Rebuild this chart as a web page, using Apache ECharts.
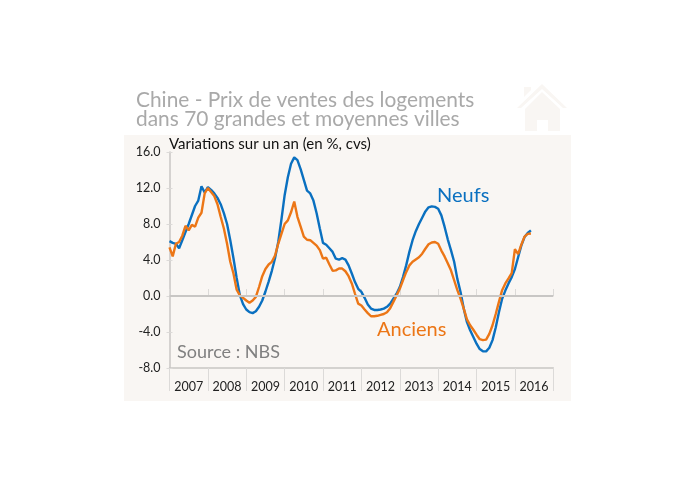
<!DOCTYPE html>
<html>
<head>
<meta charset="utf-8">
<style>html,body{margin:0;padding:0;background:#fff}#chart{width:695px;height:483px}</style>
<script src="https://cdn.jsdelivr.net/npm/echarts@6/dist/echarts.min.js"></script>
</head>
<body>
<div id="chart"></div>
<script>
const years = [2007, 2008, 2009, 2010, 2011, 2012, 2013, 2014, 2015, 2016];
const yTicks = { min: -8, max: 16, step: 4 };

// monthly, from january 2007
const neufs = [
  6.1, 5.9, 5.8, 5.3, 6.2, 7.1, 8.0, 9.0, 10.0, 10.6, 12.2, 11.5,
  12.1, 11.8, 11.4, 10.9, 10.2, 9.2, 8.0, 6.2, 4.2, 2.0, 0.1, -0.9,
  -1.5, -1.8, -1.9, -1.7, -1.2, -0.5, 0.5, 1.6, 2.8, 4.2, 6.0, 8.5,
  11.2, 13.2, 14.7, 15.4, 15.1, 14.1, 12.9, 11.7, 11.4, 10.6, 9.2, 7.5,
  5.9, 5.7, 5.3, 4.9, 4.15, 4.05, 4.2, 4.05, 3.4, 2.5, 1.55, 0.8,
  0.45, -0.2, -0.95, -1.4, -1.55, -1.55, -1.5, -1.4, -1.2, -0.85, -0.3, 0.25,
  1.0, 2.1, 3.4, 4.9, 6.2, 7.2, 8.0, 8.7, 9.4, 9.85, 9.96, 9.9,
  9.7, 8.96, 7.7, 6.3, 5.1, 3.8, 1.9, 0.45, -1.4, -2.9, -3.8, -4.55,
  -5.3, -5.9, -6.15, -6.15, -5.75, -4.9, -3.5, -1.8, -0.3, 0.6, 1.4, 2.1,
  3.0, 4.3, 5.6, 6.55, 7.0, 7.3
];
const anciens = [
  5.4, 4.4, 5.8, 6.0, 6.7, 7.8, 7.3, 7.9, 7.7, 8.7, 9.25, 11.4,
  12.0, 11.55, 11.1, 10.2, 8.8, 7.5, 5.8, 3.8, 2.5, 0.7, 0.07, -0.2,
  -0.5, -0.75, -0.5, -0.1, 1.0, 2.2, 3.0, 3.5, 3.8, 4.5, 5.8, 6.9,
  8.0, 8.4, 9.3, 10.5, 8.8, 7.7, 6.6, 6.25, 6.2, 5.9, 5.6, 5.1,
  4.15, 4.25, 3.5, 2.8, 2.85, 3.05, 3.05, 2.75, 2.2, 1.4, 0.25, -0.85,
  -1.05, -1.5, -1.9, -2.25, -2.25, -2.2, -2.1, -2.0, -1.8, -1.35, -0.65, 0.07,
  0.8, 1.75, 2.65, 3.4, 3.8, 4.05, 4.3, 4.7, 5.25, 5.75, 5.95, 6.0,
  5.8, 5.05, 4.4, 3.65, 2.85, 1.75, 0.65, -0.3, -1.4, -2.6, -3.25, -3.75,
  -4.3, -4.8, -4.9, -4.85, -4.2, -3.25, -2.0, -0.65, 0.65, 1.4, 1.95, 2.55,
  5.2, 4.65, 5.7, 6.6, 6.9, 6.95
];

const months = [];
years.forEach(function (y) {
  for (let m = 1; m <= 12; m++) months.push(y + '-' + m);
});
months.push('2017-1');

const font = 'Lato';
const paper = '#f9f6f3';
const blue = '#0a70c0';
const orange = '#ec7616';
const axisGrey = '#c8c6c4';

const chart = echarts.init(document.getElementById('chart'), null, { renderer: 'canvas' });

const option = {
  animation: false,
  textStyle: { fontFamily: font },
  grid: { left: 169.5, right: 141.7, top: 152, bottom: 115 },
  xAxis: [
    {
      type: 'category',
      boundaryGap: false,
      data: months,
      axisLine: { onZero: false, lineStyle: { color: axisGrey, width: 1.5 } },
      axisTick: {
        length: 23,
        interval: function (i) { return i % 12 === 0; },
        lineStyle: { color: '#dcdad8', width: 1 }
      },
      axisLabel: {
        interval: function (i) { return i % 12 === 6; },
        formatter: function (v) { return v.split('-')[0]; },
        color: '#222',
        fontSize: 12.5,
        margin: 12
      }
    },
    {
      // same months, only to get the ticks above the axis line
      type: 'category',
      position: 'bottom',
      boundaryGap: false,
      data: months,
      axisLine: { show: false },
      axisLabel: { show: false },
      axisTick: {
        inside: true,
        length: 7,
        interval: function (i) { return i % 12 === 0; },
        lineStyle: { color: '#dcdad8', width: 1 }
      }
    }
  ],
  yAxis: [
    {
      type: 'value',
      min: yTicks.min,
      max: yTicks.max,
      interval: yTicks.step,
      axisLine: { show: true, lineStyle: { color: axisGrey, width: 1.5 } },
      axisTick: { show: true, length: 3, lineStyle: { color: '#dcdad8' } },
      splitLine: { show: false },
      axisLabel: {
        color: '#222',
        fontSize: 12.5,
        margin: 9,
        formatter: function (v) { return v.toFixed(1); }
      }
    },
    {
      // inner half of the y ticks
      type: 'value',
      position: 'left',
      min: yTicks.min,
      max: yTicks.max,
      interval: yTicks.step,
      axisLine: { show: false },
      axisLabel: { show: false },
      splitLine: { show: false },
      axisTick: { show: true, inside: true, length: 3, lineStyle: { color: '#dcdad8' } }
    }
  ],
  series: [
    {
      name: 'Neufs',
      type: 'line',
      data: neufs,
      symbol: 'none',
      z: 3,
      lineStyle: { color: blue, width: 2.4 },
      markLine: {
        silent: true,
        symbol: 'none',
        label: { show: false },
        lineStyle: { color: axisGrey, width: 2, type: 'solid' },
        data: [{ yAxis: 0 }]
      }
    },
    {
      name: 'Anciens',
      type: 'line',
      data: anciens,
      symbol: 'none',
      z: 4,
      lineStyle: { color: orange, width: 2.4 }
    }
  ],
  graphic: [
    { type: 'rect', z: -10, silent: true, shape: { x: 124, y: 135, width: 447, height: 266 }, style: { fill: paper } },
    // house
    { type: 'polygon', z: -10, silent: true, shape: { points: [[542, 84], [567, 108], [563, 108], [542, 89], [521, 108], [517, 108]] }, style: { fill: paper } },
    { type: 'polygon', z: -10, silent: true, shape: { points: [[524, 87], [531, 87], [531, 90], [524, 97]] }, style: { fill: paper } },
    { type: 'polygon', z: -10, silent: true, shape: { points: [[542, 92], [560, 109], [560, 131], [548, 131], [548, 120], [537, 120], [537, 131], [525, 131], [525, 109]] }, style: { fill: paper } },
    { type: 'text', left: 136, top: 90, style: { text: 'Chine - Prix de ventes des logements', fill: '#a9a9a9', font: '20.9px ' + font } },
    { type: 'text', left: 136, top: 109, style: { text: 'dans 70 grandes et moyennes villes', fill: '#a9a9a9', font: '20.9px ' + font } },
    { type: 'text', left: 169, top: 137, style: { text: 'Variations sur un an (en %, cvs)', fill: '#111', font: '15px ' + font } },
    { type: 'text', left: 437, top: 186, style: { text: 'Neufs', fill: blue, font: '20px ' + font } },
    { type: 'text', left: 377, top: 320, style: { text: 'Anciens', fill: orange, font: '20px ' + font } },
    { type: 'text', left: 177, top: 343, style: { text: 'Source : NBS', fill: '#808080', font: '18px ' + font } }
  ]
};

chart.setOption(option);
</script>
</body>
</html>
